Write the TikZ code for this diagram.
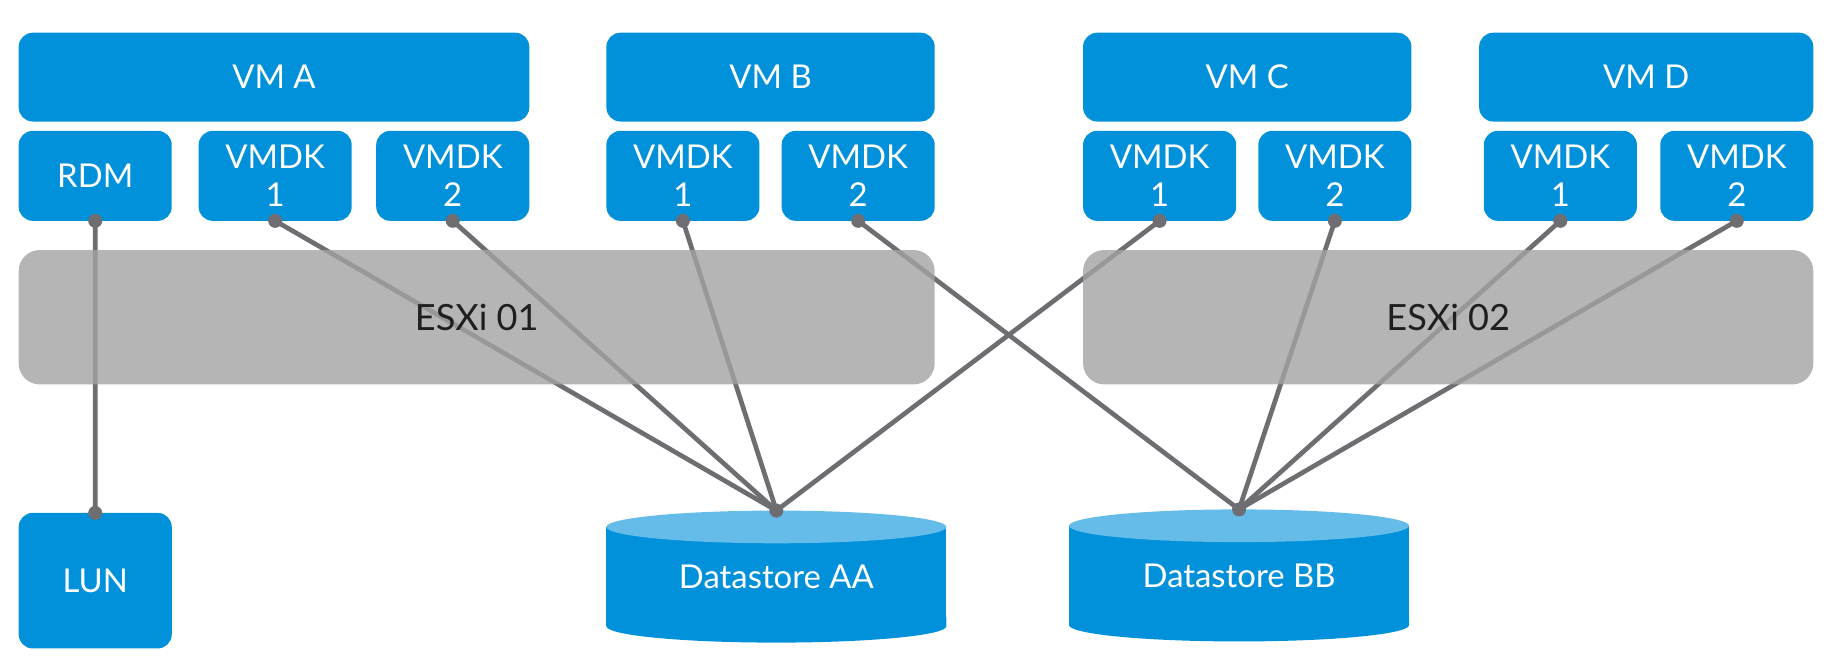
\documentclass[tikz,border=0pt]{standalone}
\usepackage{fontspec}
\setmainfont{Lato}
\usepackage{xcolor}
\definecolor{vmblue}{RGB}{0,145,218}
\definecolor{vmlightblue}{RGB}{101,188,232}
\definecolor{hostgray}{RGB}{163,163,163}
\definecolor{wiregray}{RGB}{110,110,114}
\usetikzlibrary{positioning, calc}

\begin{document}
\begin{tikzpicture}[x=0.25mm, y=0.25mm,
        vmbox/.style={rectangle, fill=vmblue, rounded corners=3mm, text=white, minimum height=19mm, inner sep=0pt, outer sep=0pt, font=\fontsize{20}{24}\selectfont},
        diskbox/.style={rectangle, fill=vmblue, rounded corners=3mm, text=white, minimum width=32.75mm, minimum height=19.25mm, inner sep=0pt, outer sep=0pt, align=center, font=\fontsize{20}{23.5}\selectfont},
        hostbox/.style={rectangle, fill=hostgray, fill opacity=0.8, text opacity=1, rounded corners=4.5mm, minimum height=28.75mm, text=black!88, font=\fontsize{22}{26}\selectfont},
        storebody/.style={rectangle, fill=vmblue, text=white, minimum width=72.75mm, minimum height=21.25mm, inner sep=0pt, outer sep=0pt, font=\fontsize{20}{24}\selectfont},
        wire/.style={draw=wiregray, line width=1mm}]
        \useasboundingbox (0,0) rectangle (1568,-569);

        % Fila 1: maquinas virtuales
        \node [vmbox, minimum width=109.25mm] (vma) at (234.5,-66) {VM A};
        \node [vmbox, minimum width=70.25mm] (vmb) at (659.5,-66) {VM B};
        \node [vmbox, minimum width=70.25mm] (vmc) at (1067.5,-66) {VM C};
        \node [vmbox, minimum width=71.5mm] (vmd) at (1409,-66) {VM D};

        % Fila 2: discos de cada VM
        \node [diskbox, below right=2mm and 0mm of vma.south west] (rdm) {RDM};
        \node [diskbox, below left=2mm and 0mm of vma.south east] (a2) {VMDK\\2};
        \node [diskbox, right=5.75mm of rdm] (a1) {VMDK\\1};
        \node [diskbox, below right=2mm and 0mm of vmb.south west] (b1) {VMDK\\1};
        \node [diskbox, below left=2mm and 0mm of vmb.south east] (b2) {VMDK\\2};
        \node [diskbox, below right=2mm and 0mm of vmc.south west] (c1) {VMDK\\1};
        \node [diskbox, below left=2mm and 0mm of vmc.south east] (c2) {VMDK\\2};
        \node [diskbox, below left=2mm and 0mm of vmd.south east] (d2) {VMDK\\2};
        \node [diskbox, left=5mm of d2] (d1) {VMDK\\1};

        % Fila 4: almacenamiento
        \node [diskbox, minimum height=29mm] (lun) at (81.5,-497) {LUN};
        \node [storebody] (dsaa) at (664.5,-493.5) {Datastore AA};
        \node [storebody] (dsbb) at (1060.5,-492.5) {Datastore BB};
        \foreach \ds in {dsaa, dsbb} {
            \fill [vmblue] ([yshift=2mm]\ds.south west) -- (\ds.south west) arc [start angle=180, end angle=360, x radius=145.5, y radius=14] -- ([yshift=2mm]\ds.south east) -- cycle;
            \fill [vmlightblue] (\ds.north) ellipse [x radius=145.5, y radius=14];
            \coordinate (\ds top) at ([yshift=3.5mm]\ds.north);
        }

        % Conexiones discos - almacenamiento
        \draw [wire] (rdm.south) -- (lun.north);
        \foreach \d in {a1, a2, b1, c1}
            \draw [wire] (\d.south) -- (dsaatop);
        \foreach \d in {b2, c2, d1, d2}
            \draw [wire] (\d.south) -- (dsbbtop);

        % Fila 3: hosts (semitransparentes sobre las lineas)
        \node [hostbox, minimum width=196mm] (esx1) at (408,-271.5) {ESXi 01};
        \node [hostbox, minimum width=156.25mm] (esx2) at (1239.5,-271.5) {ESXi 02};

        % Puntos de conexion
        \foreach \d in {rdm, a1, a2, b1, b2, c1, c2, d1, d2}
            \fill [wiregray] (\d.south) circle [radius=6];
        \fill [wiregray] (lun.north) circle [radius=6];
        \fill [wiregray] (dsaatop) circle [radius=6];
        \fill [wiregray] (dsbbtop) circle [radius=6];
    \end{tikzpicture}
\end{document}
